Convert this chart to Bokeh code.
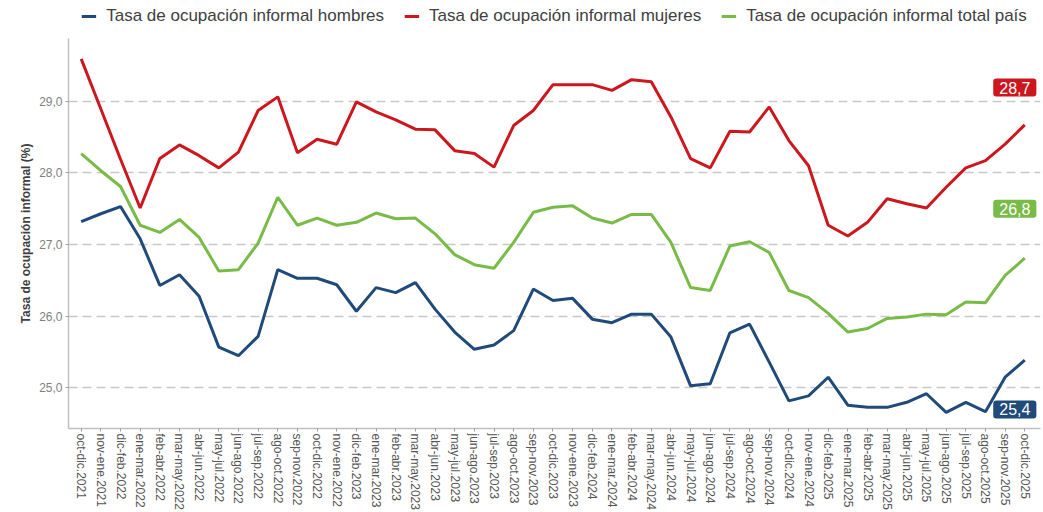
from bokeh.plotting import figure
from bokeh.layouts import column
from bokeh.models import Range1d, FixedTicker, CustomJSTickFormatter, Legend, LegendItem, Label
from bokeh.embed import file_html
from bokeh.resources import INLINE

periods = [
    "oct-dic.2021", "nov-ene.2021", "dic-feb.2022", "ene-mar.2022", "feb-abr.2022", "mar-may.2022",
    "abr-jun.2022", "may-jul.2022", "jun-ago.2022", "jul-sep.2022", "ago-oct.2022", "sep-nov.2022",
    "oct-dic.2022", "nov-ene.2022", "dic-feb.2023", "ene-mar.2023", "feb-abr.2023", "mar-may.2023",
    "abr-jun.2023", "may-jul.2023", "jun-ago.2023", "jul-sep.2023", "ago-oct.2023", "sep-nov.2023",
    "oct-dic.2023", "nov-ene.2023", "dic-feb.2024", "ene-mar.2024", "feb-abr.2024", "mar-may.2024",
    "abr-jun.2024", "may-jul.2024", "jun-ago.2024", "jul-sep.2024", "ago-oct.2024", "sep-nov.2024",
    "oct-dic.2024", "nov-ene.2024", "dic-feb.2025", "ene-mar.2025", "feb-abr.2025", "mar-may.2025",
    "abr-jun.2025", "may-jul.2025", "jun-ago.2025", "jul-sep.2025", "ago-oct.2025", "sep-nov.2025",
    "oct-dic.2025",
]

hombres = [
    27.32, 27.43, 27.53, 27.08, 26.43, 26.58, 26.28, 25.57, 25.45, 25.72,
    26.65, 26.53, 26.53, 26.44, 26.07, 26.40, 26.33, 26.47, 26.10, 25.78,
    25.54, 25.60, 25.80, 26.38, 26.22, 26.25, 25.96, 25.91, 26.03, 26.03,
    25.71, 25.03, 25.06, 25.77, 25.89, 25.36, 24.82, 24.89, 25.15, 24.76,
    24.73, 24.73, 24.80, 24.92, 24.66, 24.80, 24.67, 25.15, 25.39,
]

mujeres = [
    29.59, 28.89, 28.19, 27.51, 28.20, 28.39, 28.24, 28.07, 28.29, 28.87,
    29.06, 28.28, 28.47, 28.40, 28.99, 28.85, 28.74, 28.61, 28.60, 28.31,
    28.27, 28.08, 28.66, 28.87, 29.23, 29.23, 29.23, 29.15, 29.30, 29.27,
    28.78, 28.20, 28.07, 28.58, 28.57, 28.92, 28.45, 28.10, 27.27, 27.12,
    27.31, 27.64, 27.57, 27.51, 27.80, 28.07, 28.17, 28.40, 28.67,
]

total = [
    28.27, 28.03, 27.81, 27.27, 27.17, 27.35, 27.10, 26.63, 26.65, 27.02,
    27.66, 27.27, 27.37, 27.27, 27.31, 27.44, 27.36, 27.37, 27.15, 26.86,
    26.72, 26.67, 27.03, 27.45, 27.52, 27.54, 27.37, 27.30, 27.42, 27.42,
    27.03, 26.40, 26.36, 26.98, 27.04, 26.89, 26.36, 26.26, 26.04, 25.78,
    25.83, 25.97, 25.99, 26.03, 26.02, 26.20, 26.19, 26.57, 26.81,
]

series_names = [
    "Tasa de ocupación informal hombres",
    "Tasa de ocupación informal mujeres",
    "Tasa de ocupación informal total país",
]
y_ticks = [25, 26, 27, 28, 29]

# style
C_BLUE = "#1f4a7a"
C_RED = "#cc171e"
C_GREEN = "#78bb47"
label_y = {"h": 24.70, "m": 29.19, "t": 27.50}
label_x = 48.59

x = list(range(len(periods)))

p = figure(
    width=1043, height=480, output_backend="svg", toolbar_location=None,
    x_range=Range1d(-0.646, 48.80), y_range=Range1d(24.435, 29.874),
    min_border_left=68, min_border_top=6, min_border_bottom=84, min_border_right=3,
    background_fill_color="white", border_fill_color="white",
)
p.outline_line_color = None

r_h = p.line(x, hombres, line_color=C_BLUE, line_width=3)
r_m = p.line(x, mujeres, line_color=C_RED, line_width=3)
r_t = p.line(x, total, line_color=C_GREEN, line_width=3)

# axes
p.xaxis.ticker = FixedTicker(ticks=x)
p.xaxis.major_label_overrides = {i: lab for i, lab in enumerate(periods)}
p.xaxis.major_label_orientation = "vertical"
p.xaxis.major_label_text_font = "Liberation Sans"
p.xaxis.major_label_text_font_size = "12px"
p.xaxis.major_label_text_color = "#555555"
p.xaxis.major_label_standoff = 2

p.yaxis.ticker = FixedTicker(ticks=y_ticks)
p.yaxis.formatter = CustomJSTickFormatter(code="return tick.toFixed(1).replace('.', ',');")
p.yaxis.major_label_text_font = "Liberation Sans"
p.yaxis.major_label_text_font_size = "12px"
p.yaxis.major_label_text_color = "#7f7f7f"
p.yaxis.major_label_standoff = 3
p.yaxis.axis_label = "Tasa de ocupación informal (%)"
p.yaxis.axis_label_text_font = "Liberation Sans"
p.yaxis.axis_label_text_font_size = "12px"
p.yaxis.axis_label_text_font_style = "bold"
p.yaxis.axis_label_text_color = "#404040"
p.yaxis.axis_label_standoff = 3

for ax in (p.xaxis, p.yaxis):
    ax.axis_line_color = "#c0c0c0"
    ax.axis_line_width = 1.5
    ax.major_tick_line_color = "#a0a0a0"
    ax.major_tick_out = 3
    ax.major_tick_in = 0
    ax.minor_tick_line_color = None

p.xgrid.visible = False
p.ygrid.grid_line_color = "#c8c8c8"
p.ygrid.grid_line_dash = "9 5"
p.ygrid.grid_line_width = 1.4

# end labels
def fmt(v):
    return f"{v:.1f}".replace(".", ",")

for key, vals, col in (("m", mujeres, C_RED), ("t", total, C_GREEN), ("h", hombres, C_BLUE)):
    p.add_layout(Label(
        x=label_x, y=label_y[key], text=fmt(vals[-1]),
        text_align="right", text_baseline="middle",
        text_color="white", text_font="Liberation Sans", text_font_size="16px",
        background_fill_color=col, border_radius=3, padding=(6, 3),
    ))

# legend strip above the chart (same series, drawn outside this strip's visible range)
lg = figure(
    width=1043, height=32, output_backend="svg", toolbar_location=None,
    x_range=Range1d(100, 101), y_range=Range1d(0, 1),
    x_axis_type=None, y_axis_type=None,
    min_border_left=0, min_border_right=0, min_border_top=0, min_border_bottom=0,
    background_fill_color="white", border_fill_color="white",
)
lg.outline_line_color = None
lg.grid.visible = False
k_h = lg.line(x, hombres, line_color=C_BLUE, line_width=3)
k_m = lg.line(x, mujeres, line_color=C_RED, line_width=3)
k_t = lg.line(x, total, line_color=C_GREEN, line_width=3)

legend = Legend(
    items=[
        LegendItem(label=series_names[0], renderers=[k_h]),
        LegendItem(label=series_names[1], renderers=[k_m]),
        LegendItem(label=series_names[2], renderers=[k_t]),
    ],
    orientation="horizontal",
    location="center",
    label_text_font="Liberation Sans",
    label_text_font_size="17px",
    label_text_color="#404040",
    glyph_width=15, label_standoff=10, spacing=20,
    padding=0, margin=0,
    background_fill_alpha=0, border_line_color=None,
)
lg.add_layout(legend)

layout = column(lg, p, spacing=0)
open("out.html", "w").write(file_html(layout, INLINE))
